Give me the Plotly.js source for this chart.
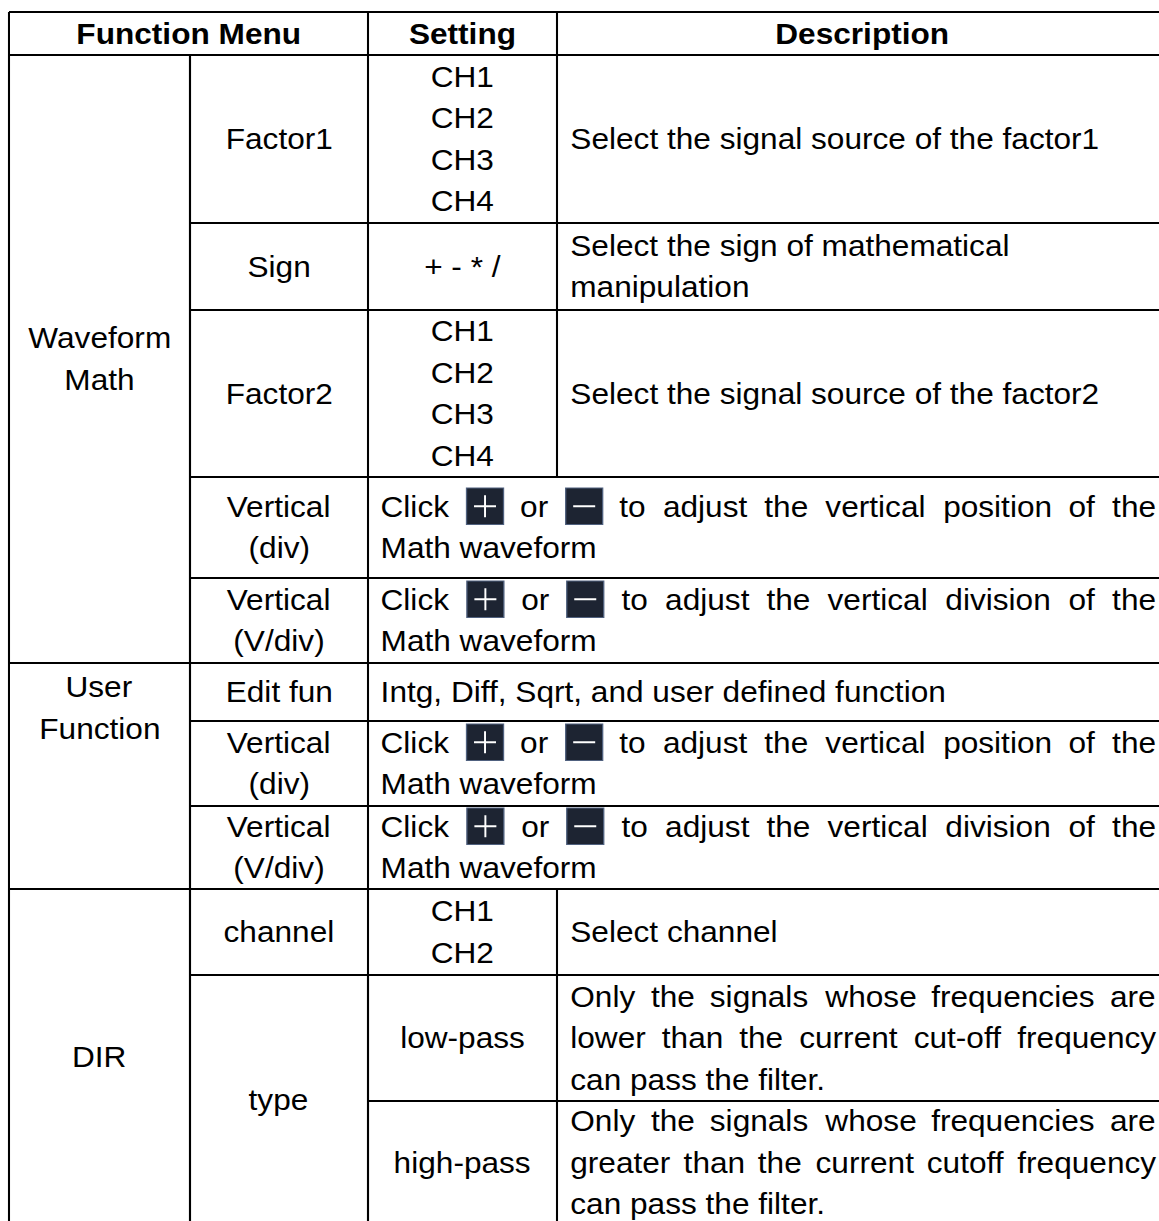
<!DOCTYPE html>
<html>
<head>
<meta charset="utf-8">
<script src="https://cdn.plot.ly/plotly-3.0.1.min.js"></script>
<style>
  html, body { margin: 0; padding: 0; background: #fff; overflow: hidden; }
  #chart { width: 1063px; height: 1221px; transform-origin: 0 0; }
</style>
</head>
<body>
<div id="chart"></div>
<script>
// ---------------- table content (data) ----------------
const headerLabels = ['Function Menu', 'Setting', 'Description'];
const menuLabels = [['Waveform', 'Math'], ['User', 'Function'], ['DIR']];
const settingLabels = [
  ['Factor1'], ['Sign'], ['Factor2'],
  ['Vertical', '(div)'], ['Vertical', '(V/div)'],
  ['Edit fun'], ['Vertical', '(div)'], ['Vertical', '(V/div)'],
  ['channel'], ['type']
];
const optionLabels = [
  ['CH1', 'CH2', 'CH3', 'CH4'],
  ['+ - * /'],
  ['CH1', 'CH2', 'CH3', 'CH4'],
  ['CH1', 'CH2'],
  ['low-pass'],
  ['high-pass']
];
const descriptionLines = [
  ['Select the signal source of the factor1'],
  ['Select the sign of mathematical', 'manipulation'],
  ['Select the signal source of the factor2'],
  ['Click [+] or [-] to adjust the vertical position of the', 'Math waveform'],
  ['Click [+] or [-] to adjust the vertical division of the', 'Math waveform'],
  ['Intg, Diff, Sqrt, and user defined function'],
  ['Click [+] or [-] to adjust the vertical position of the', 'Math waveform'],
  ['Click [+] or [-] to adjust the vertical division of the', 'Math waveform'],
  ['Select channel'],
  ['Only the signals whose frequencies are', 'lower than the current cut-off frequency', 'can pass the filter.'],
  ['Only the signals whose frequencies are', 'greater than the current cutoff frequency', 'can pass the filter.']
];

// ---------------- table geometry (layout) ----------------
const W = 1159, H = 1221;
const W0 = 1063;            // drawing width before horizontal stretch
const SX = W / W0;          // horizontal stretch of the source picture
const FS = 29;
const FONT = 'Liberation Sans, Arial, sans-serif';
const LH = 41.5;
const PADL = 13, PADR = 11;
const ICON_W = 37, ICON_H = 36.5;

const colEdges = [9, 190, 368, 557, 1167];
const rowEdges = [12, 55, 223, 310, 477, 578, 663, 721, 806, 889, 975, 1101, 1224];

// [colStart, colEnd, rowStart, rowEnd]
const headerSpans = [[0, 2, 0, 1], [2, 3, 0, 1], [3, 4, 0, 1]];
const menuSpans = [[0, 1, 1, 6], [0, 1, 6, 9], [0, 1, 9, 12]];
const menuValign = ['middle', 'top', 'middle'];
const settingSpans = [[1,2,1,2],[1,2,2,3],[1,2,3,4],[1,2,4,5],[1,2,5,6],[1,2,6,7],[1,2,7,8],[1,2,8,9],[1,2,9,10],[1,2,10,12]];
const optionSpans = [[2,3,1,2],[2,3,2,3],[2,3,3,4],[2,3,9,10],[2,3,10,11],[2,3,11,12]];
const descSpans = [[3,4,1,2],[3,4,2,3],[3,4,3,4],[2,4,4,5],[2,4,5,6],[2,4,6,7],[2,4,7,8],[2,4,8,9],[3,4,9,10],[3,4,10,11],[3,4,11,12]];

const canvas = document.createElement('canvas');
const ctx = canvas.getContext('2d');
function measure(t, bold) {
  ctx.font = (bold ? 'bold ' : '') + FS + 'px "Liberation Sans"';
  return ctx.measureText(t).width * SX;   // in data units (reference pixels)
}

const annotations = [];
const shapes = [];
const edgeSet = new Set();

function addEdge(x0, y0, x1, y1, vertical) {
  const k = [x0, y0, x1, y1].join(',');
  if (edgeSet.has(k)) return;
  edgeSet.add(k);
  shapes.push({ type: 'line', xref: 'x', yref: 'y', x0, y0, x1, y1,
    line: { color: '#000', width: vertical ? 1.9 : 2.2 }, layer: 'above' });
}

function addText(txt, x, y, anchor, bold) {
  annotations.push({
    x, y, xref: 'x', yref: 'y', showarrow: false,
    text: bold ? '<b>' + txt + '</b>' : txt,
    xanchor: anchor, yanchor: 'middle',
    font: { family: FONT, size: FS, color: '#000' },
    borderpad: 0, borderwidth: 0
  });
}

function addIcon(x, y, sign) {
  const x0 = x, x1 = x + ICON_W, y0 = y - ICON_H / 2 - 0.5, y1 = y + ICON_H / 2 - 0.5;
  const cx = (x0 + x1) / 2, cy = (y0 + y1) / 2, a = 11;
  shapes.push({ type: 'rect', xref: 'x', yref: 'y', x0, x1, y0, y1,
    fillcolor: '#1d2432', line: { color: '#50617f', width: 1.2 }, layer: 'above' });
  shapes.push({ type: 'line', xref: 'x', yref: 'y', x0: cx - a, x1: cx + a, y0: cy, y1: cy,
    line: { color: '#ffffff', width: 2 }, layer: 'above' });
  if (sign === '+') {
    shapes.push({ type: 'line', xref: 'x', yref: 'y', x0: cx, x1: cx, y0: cy - a, y1: cy + a,
      line: { color: '#ffffff', width: 1.8 }, layer: 'above' });
  }
}

function cell(span, lines, opts) {
  const [c0, c1, r0, r1] = span;
  const xl = colEdges[c0], xr = colEdges[c1], yt = rowEdges[r0], yb = rowEdges[r1];
  // borders
  addEdge(xl, yt, xr, yt, false);
  addEdge(xl, yb, xr, yb, false);
  addEdge(xl, yt, xl, yb, true);
  addEdge(xr, yt, xr, yb, true);
  const n = lines.length;
  lines.forEach((line, i) => {
    const y = opts.valign === 'top'
      ? yt + 24 + i * LH
      : (yt + yb) / 2 + (i - (n - 1) / 2) * LH;
    if (opts.align === 'center') {
      addText(line, (xl + xr) / 2, y, 'center', opts.bold);
      return;
    }
    const left = xl + PADL, right = xr - PADR, avail = right - left;
    const tokens = line.split(' ');
    const widths = tokens.map(t => (t === '[+]' || t === '[-]') ? ICON_W : measure(t));
    const natural = measure(line.replace(/\[[+-]\]/g, 'XX'));
    const justify = i < n - 1 && natural > 0.85 * avail;
    if (!justify) {
      addText(line, left, y, 'left', false);
      return;
    }
    const sum = widths.reduce((a, b) => a + b, 0);
    const gap = (avail - sum) / (tokens.length - 1);
    let x = left;
    tokens.forEach((t, j) => {
      if (t === '[+]') addIcon(x, y, '+');
      else if (t === '[-]') addIcon(x, y, '-');
      else addText(t, x, y, 'left', false);
      x += widths[j] + gap;
    });
  });
}

headerLabels.forEach((t, i) => cell(headerSpans[i], [t], { align: 'center', bold: true }));
menuLabels.forEach((l, i) => cell(menuSpans[i], l, { align: 'center', valign: menuValign[i] }));
settingLabels.forEach((l, i) => cell(settingSpans[i], l, { align: 'center' }));
optionLabels.forEach((l, i) => cell(optionSpans[i], l, { align: 'center' }));
descriptionLines.forEach((l, i) => cell(descSpans[i], l, { align: 'left' }));

const layout = {
  width: W0, height: H,
  margin: { l: 0, r: 0, t: 0, b: 0, pad: 0 },
  paper_bgcolor: '#ffffff', plot_bgcolor: '#ffffff',
  showlegend: false,
  xaxis: { range: [0, W], visible: false, fixedrange: true },
  yaxis: { range: [H, 0], visible: false, fixedrange: true },
  shapes, annotations
};

Plotly.newPlot('chart', [{ x: [], y: [], type: 'scatter', hoverinfo: 'skip' }], layout,
  { displayModeBar: false, staticPlot: true }).then(() => {
  document.getElementById('chart').style.transform = 'scaleX(' + SX + ')';
});
</script>
</body>
</html>
